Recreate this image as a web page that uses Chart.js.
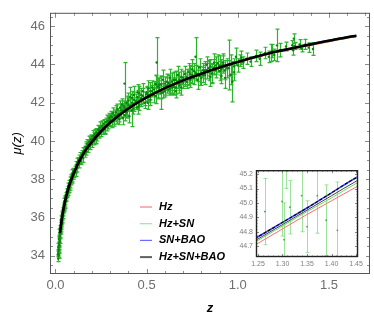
<!DOCTYPE html>
<html><head><meta charset="utf-8">
<script src="https://cdn.jsdelivr.net/npm/chart.js@4/dist/chart.umd.min.js"></script>
<style>
html,body{margin:0;padding:0;background:#fff;}
#wrap{position:relative;width:374px;height:319px;overflow:hidden;}
#main{position:absolute;left:0;top:0;}
#insetBox{position:absolute;left:233px;top:163px;width:133px;height:110px;background:#fff;}
</style></head><body>
<div id="wrap">
<canvas id="main" width="374" height="319"></canvas>
<div id="insetBox"><canvas id="inset" width="133" height="110"></canvas></div>
</div>
<script>
// ---- Supernova data (redshift, distance modulus, 1-sigma error) ----
const snZ = [
 0.014,0.015,0.016,0.016,0.017,0.018,0.018,0.019,0.02,0.02,0.021,0.022,0.022,0.023,0.024,0.024,0.025,0.026,0.027,0.028,
 0.029,0.03,0.031,0.032,0.033,0.034,0.035,0.036,0.038,0.04,0.041,0.043,0.045,0.047,0.049,0.051,0.053,0.055,0.057,0.06,
 0.062,0.064,0.066,0.068,0.07,0.073,0.075,0.078,0.08,0.083,0.086,0.088,0.091,0.094,0.097,0.1,
 0.105,0.11,0.115,0.12,0.125,0.13,0.135,0.14,0.145,0.15,0.155,0.16,0.165,0.17,0.175,0.18,0.185,0.19,0.195,0.2,
 0.205,0.21,0.215,0.22,0.225,0.23,0.235,0.24,0.245,0.25,0.255,0.26,0.265,0.27,0.275,0.28,0.285,0.29,0.295,0.3,
 0.12,0.13,0.15,0.17,0.19,0.21,0.23,0.26,0.29,
 0.305,0.31,0.315,0.32,0.33,0.335,0.34,0.35,0.355,0.36,0.365,0.37,0.375,0.379,0.385,0.39,0.395,0.4,0.405,0.41,
 0.42,0.42,0.425,0.43,0.44,0.45,0.455,0.46,0.47,0.48,0.49,0.5,0.505,0.51,0.52,0.53,0.54,0.55,0.555,0.56,
 0.57,0.58,0.58,0.59,0.6,0.61,0.62,0.63,0.64,0.65,0.66,0.67,0.68,0.69,0.7,
 0.31,0.325,0.345,0.37,0.39,0.41,0.43,0.45,0.47,0.49,0.51,0.53,0.55,0.57,0.59,0.61,0.63,0.65,0.67,0.69,
 0.71,0.72,0.72,0.73,0.74,0.74,0.75,0.76,0.76,0.768,0.78,0.78,0.79,0.8,0.81,0.81,0.82,0.83,0.83,0.84,
 0.85,0.85,0.86,0.87,0.87,0.88,0.89,0.9,0.91,0.91,0.92,0.93,0.93,0.95,0.952,0.96,0.96,0.97,0.98,0.98,0.99,1.0,
 1.01,1.02,1.03,1.05,1.07,1.1,1.12,1.15,1.17,1.18,1.19,1.2,1.215,1.23,1.264,1.299,1.303,1.307,1.315,1.339,
 1.35,1.371,1.389,1.412,
 0.11,0.14,0.16,0.18,0.2,0.22,0.24,0.27,0.3,0.32,0.34,0.36,0.38,0.4,0.42,0.44,0.46,0.48,0.5,0.52,
 0.54,0.56,0.58,0.6,0.62,0.64,0.66,0.68,0.7,0.73,0.75,0.77,0.79,0.82,0.84,0.86,0.88,0.9,0.92,0.94,
 0.35,0.38,0.43,0.47,0.52,0.56,0.6,0.64,0.68,0.71,0.45,0.5,0.55,0.62,0.66,
 0.017,0.021,0.025,0.029,0.033,0.037,0.042,0.046,0.05,0.055,0.059,0.065,0.072,0.077,0.085,0.092
];
const snMu = [
 34.1,33.85,34.2,34.45,34.0,34.3,34.05,34.5,34.6,34.9,34.85,34.7,35.2,35.05,35.0,34.8,35.3,35.15,35.45,35.3,
 35.6,35.5,35.75,35.65,35.95,35.8,36.05,35.9,36.2,36.1,36.4,36.35,36.6,36.5,36.85,36.7,37.0,36.85,37.15,37.05,
 37.35,37.2,37.45,37.3,37.65,37.55,37.8,37.7,37.95,37.85,38.1,37.95,38.3,38.15,38.4,38.25,
 38.5,38.35,38.75,38.6,38.95,38.8,39.15,38.95,39.3,39.1,39.45,39.35,39.7,39.45,39.85,39.6,39.95,39.75,40.1,39.85,
 40.25,40.0,40.35,40.1,40.45,40.25,40.6,40.35,40.7,40.45,40.8,40.55,40.9,40.65,41.0,40.75,41.05,40.85,41.2,40.95,
 38.9,39.05,39.4,39.65,40.0,40.25,40.4,40.7,41.05,
 41.3,41.0,41.45,41.1,41.5,41.2,41.65,41.3,41.75,41.45,41.9,41.2,41.8,43.0,41.55,42.0,41.65,42.1,41.3,41.85,
 42.25,41.6,41.7,42.4,41.95,42.3,41.8,42.5,42.1,42.6,42.2,42.55,42.0,42.75,42.3,42.8,42.4,43.0,44.1,42.55,
 42.95,42.6,42.5,43.2,42.75,43.1,42.7,43.3,42.85,43.2,42.6,43.45,43.0,43.35,43.05,
 41.25,41.35,41.4,41.6,41.5,42.3,41.9,42.55,42.4,42.0,42.4,42.6,42.35,42.8,42.55,42.9,42.75,42.85,43.1,42.8,
 43.5,43.1,43.35,43.6,43.2,43.5,43.75,43.3,43.65,44.4,43.5,43.2,43.85,43.3,43.7,43.45,43.45,44.0,43.7,43.6,
 43.9,43.35,43.5,44.1,43.85,43.7,44.05,43.95,43.4,43.75,44.0,43.7,43.3,43.8,43.97,43.45,44.0,43.1,43.9,43.6,44.4,43.95,
 44.2,44.35,44.1,44.3,44.15,44.45,44.3,44.6,44.4,44.6,44.7,44.5,45.0,44.75,44.94,45.01,44.745,45.35,44.97,45.05,
 44.835,45.05,44.88,44.81,
 38.55,39.0,39.5,39.8,40.1,40.1,40.55,40.6,41.1,41.05,41.3,41.6,41.35,41.9,42.0,42.1,41.9,42.35,42.45,42.15,
 42.7,42.55,42.95,42.6,43.05,42.8,43.2,42.9,43.3,43.3,43.45,43.55,43.4,43.7,43.8,43.55,43.95,43.65,44.1,43.8,
 41.15,41.7,42.15,42.25,42.6,42.85,43.0,43.1,43.2,43.2,41.75,42.45,42.95,43.0,42.8,
 34.35,34.55,35.05,35.4,35.7,36.0,36.25,36.45,36.65,36.95,37.0,37.3,37.45,37.6,38.0,38.05
];
const snErr = [
 0.15,0.15,0.12,0.2,0.13,0.14,0.15,0.2,0.15,0.18,0.12,0.18,0.2,0.14,0.12,0.15,0.15,0.2,0.13,0.16,
 0.14,0.12,0.15,0.18,0.14,0.13,0.2,0.15,0.14,0.16,0.12,0.15,0.17,0.14,0.15,0.16,0.13,0.18,0.15,0.14,
 0.16,0.15,0.17,0.14,0.15,0.16,0.14,0.15,0.17,0.14,0.16,0.15,0.2,0.15,0.17,0.16,
 0.18,0.2,0.17,0.22,0.18,0.2,0.25,0.18,0.2,0.22,0.18,0.2,0.25,0.19,0.22,0.2,0.3,0.2,0.22,0.19,
 0.3,0.2,0.25,0.22,0.2,0.25,0.22,0.2,0.3,0.22,0.25,0.2,0.22,0.25,0.2,0.22,0.3,0.22,0.25,0.2,
 0.2,0.22,0.25,0.2,0.22,0.2,0.25,0.22,0.25,
 0.25,0.3,0.28,0.25,0.35,0.3,0.28,0.3,0.35,0.28,0.3,0.35,0.3,1.1,0.3,0.35,0.3,0.4,0.35,0.3,
 0.35,0.85,0.3,0.45,0.3,0.35,0.4,0.35,0.3,0.4,0.35,0.3,0.35,0.4,0.3,0.35,0.4,0.45,1.3,0.3,
 0.35,0.4,0.85,0.5,0.35,0.4,0.3,0.45,0.35,0.4,0.35,0.45,0.35,0.4,0.3,
 0.3,0.28,0.3,0.35,0.3,0.5,0.35,0.4,0.35,0.3,0.35,0.3,0.4,0.35,0.3,0.4,0.35,0.45,0.35,0.4,
 0.4,0.35,0.4,0.45,0.4,0.45,0.5,0.35,0.4,1.0,0.4,0.5,0.45,0.4,0.35,0.4,0.5,0.4,0.45,0.45,
 0.35,0.5,0.5,0.45,0.4,0.4,0.45,0.5,0.4,0.5,0.45,0.5,0.55,0.4,1.3,0.5,0.5,1.05,0.4,0.45,0.45,0.35,
 0.3,0.35,0.3,0.3,0.25,0.3,0.35,0.3,0.3,0.45,0.35,0.3,0.85,0.35,0.23,0.24,0.255,0.25,0.185,0.25,
 0.18,0.26,0.245,0.335,
 0.2,0.2,0.22,0.25,0.2,0.25,0.22,0.25,0.3,0.28,0.3,0.35,0.3,0.35,0.4,0.35,0.3,0.4,0.35,0.3,
 0.4,0.35,0.45,0.3,0.4,0.35,0.45,0.4,0.35,0.4,0.45,0.4,0.5,0.45,0.4,0.5,0.45,0.5,0.45,0.5,
 0.3,0.35,0.4,0.35,0.45,0.4,0.35,0.45,0.4,0.35,0.35,0.4,0.45,0.4,0.35,
 0.18,0.2,0.15,0.15,0.17,0.15,0.16,0.15,0.18,0.15,0.16,0.18,0.15,0.17,0.16,0.18
];

// ---- Model curves mu(z) for the four fits ----
const modelZ   = [0.025,0.03,0.04,0.05,0.07,0.1,0.15,0.2,0.25,0.3,0.4,0.5,0.6,0.7,0.8,0.9,1.0,1.1,1.2,1.25,1.3,1.35,1.4,1.45,1.5,1.6,1.65];
const muHz     = [35.19,35.59,36.24,36.74,37.51,38.32,39.29,39.96,40.51,40.97,41.70,42.27,42.74,43.15,43.50,43.82,44.11,44.37,44.62,44.72,44.82,44.92,45.015,45.11,45.20,45.38,45.46];
const muHzSN   = [35.19,35.59,36.24,36.74,37.51,38.32,39.29,39.96,40.51,40.97,41.70,42.28,42.75,43.16,43.51,43.83,44.12,44.39,44.64,44.74,44.84,44.94,45.035,45.135,45.22,45.40,45.48];
const muSNBAO  = [35.19,35.59,36.24,36.74,37.51,38.32,39.29,39.96,40.51,40.97,41.70,42.28,42.76,43.17,43.53,43.85,44.15,44.42,44.665,44.765,44.865,44.965,45.07,45.175,45.26,45.44,45.52];
const muAll    = [35.19,35.59,36.24,36.74,37.51,38.32,39.29,39.96,40.51,40.97,41.70,42.28,42.76,43.17,43.52,43.84,44.13,44.40,44.65,44.75,44.85,44.95,45.05,45.15,45.24,45.42,45.50];
const seriesNames = ['Hz', 'Hz+SN', 'SN+BAO', 'Hz+SN+BAO'];

// ---- Tick labels ----
const xTicks = [0, 0.5, 1.0, 1.5];
const yTicks = [34, 36, 38, 40, 42, 44, 46];
const insetXTicks = [1.25, 1.30, 1.35, 1.40, 1.45];
const insetYTicks = [44.7, 44.8, 44.9, 45.0, 45.1, 45.2];

const FONT = "'Liberation Sans', Arial, sans-serif";
const pts = (xs, ys) => xs.map((x, i) => ({x: x, y: ys[i]}));

const errorBars = {
  id: 'errorBars',
  beforeDatasetsDraw(chart, args, o) {
    const {ctx, chartArea: a, scales: {x, y}} = chart;
    ctx.save();
    ctx.beginPath(); ctx.rect(a.left, a.top, a.right - a.left, a.bottom - a.top); ctx.clip();
    ctx.strokeStyle = o.color; ctx.lineWidth = o.width;
    ctx.beginPath();
    for (let i = 0; i < snZ.length; i++) {
      const px = Math.round(x.getPixelForValue(snZ[i])) + 0.5;
      const y1 = y.getPixelForValue(snMu[i] - snErr[i]);
      const y2 = y.getPixelForValue(snMu[i] + snErr[i]);
      ctx.moveTo(px, y1); ctx.lineTo(px, y2);
      ctx.moveTo(px - o.cap, y1); ctx.lineTo(px + o.cap, y1);
      ctx.moveTo(px - o.cap, y2); ctx.lineTo(px + o.cap, y2);
    }
    ctx.stroke();
    ctx.restore();
  }
};

const frameTicks = {
  id: 'frameTicks',
  afterDraw(chart, args, o) {
    const {ctx, chartArea: a, scales: {x, y}} = chart;
    ctx.save();
    ctx.strokeStyle = o.tickColor; ctx.lineWidth = 1;
    ctx.beginPath();
    const tx = (v, len) => { const p = Math.round(x.getPixelForValue(v)) + 0.5;
      ctx.moveTo(p, a.bottom); ctx.lineTo(p, a.bottom - len); ctx.moveTo(p, a.top); ctx.lineTo(p, a.top + len); };
    const ty = (v, len) => { const p = Math.round(y.getPixelForValue(v)) + 0.5;
      ctx.moveTo(a.left, p); ctx.lineTo(a.left + len, p); ctx.moveTo(a.right, p); ctx.lineTo(a.right - len, p); };
    const nx = Math.round((x.max - o.xStart) / o.xMinor);
    for (let k = 0; k <= nx; k++) { const v = o.xStart + k * o.xMinor; if (v >= x.min && v <= x.max) tx(v, o.minorLen); }
    const ny = Math.round((y.max - o.yStart) / o.yMinor);
    for (let k = 0; k <= ny; k++) { const v = o.yStart + k * o.yMinor; if (v >= y.min && v <= y.max) ty(v, o.minorLen); }
    o.xMajor.forEach(v => tx(v, o.majorLen));
    o.yMajor.forEach(v => ty(v, o.majorLen));
    ctx.stroke();
    ctx.strokeStyle = o.frameColor; ctx.lineWidth = o.frameWidth;
    ctx.strokeRect(a.left + 0.5, a.top + 0.5, a.right - a.left - 1, a.bottom - a.top - 1);
    ctx.restore();
  }
};

const legendBox = {
  id: 'legendBox',
  afterDraw(chart, args, o) {
    const ctx = chart.ctx;
    ctx.save();
    ctx.font = o.font; ctx.textBaseline = 'middle';
    o.items.forEach((it, i) => {
      const yy = o.y + i * o.dy;
      ctx.strokeStyle = it.color; ctx.lineWidth = it.width;
      ctx.beginPath(); ctx.moveTo(o.x, yy); ctx.lineTo(o.x + o.len, yy); ctx.stroke();
      ctx.fillStyle = '#000';
      ctx.fillText(it.text, o.x + o.len + o.gap, yy);
    });
    ctx.restore();
  }
};

const lineDs = (label, ys, color, width, order, extra) => Object.assign({
  label: label, data: pts(modelZ, ys), showLine: true, borderColor: color, backgroundColor: color,
  borderWidth: width, pointRadius: 0, cubicInterpolationMode: 'monotone', order: order
}, extra || {});

new Chart(document.getElementById('main'), {
  type: 'scatter',
  data: { datasets: [
    { label: 'Union data', data: pts(snZ, snMu), pointRadius: 1.2, pointBorderWidth: 0,
      pointBackgroundColor: '#0b850b', order: 5 },
    lineDs(seriesNames[0], muHz, '#ff4a2a', 1.5, 4),
    lineDs(seriesNames[1], muHzSN, '#3ccc3c', 1.5, 3),
    lineDs(seriesNames[2], muSNBAO, '#2a2aff', 1.5, 2),
    lineDs(seriesNames[3], muAll, '#000000', 2.6, 1)
  ]},
  plugins: [errorBars, frameTicks, legendBox],
  options: {
    responsive: false, animation: false, events: [],
    layout: { padding: { left: 0, right: 2, top: 1, bottom: 0 } },
    scales: {
      x: { type: 'linear', min: -0.03, max: 1.725,
        afterFit(s) { s.height = 45; },
        afterBuildTicks(s) { s.ticks = xTicks.map(v => ({value: v})); },
        grid: { display: false, drawTicks: false }, border: { display: false },
        ticks: { padding: 4, color: '#6e6e6e', font: { family: FONT, size: 13 }, autoSkip: false, maxRotation: 0,
          callback: v => Number(v).toFixed(1) },
        title: { display: true, text: 'z', color: '#000', font: { family: FONT, size: 13, style: 'italic', weight: 'bold' },
          padding: { top: 0, bottom: 3 } } },
      y: { type: 'linear', min: 33.05, max: 46.7,
        afterFit(s) { s.width = 50; },
        afterBuildTicks(s) { s.ticks = yTicks.map(v => ({value: v})); },
        grid: { display: false, drawTicks: false }, border: { display: false },
        ticks: { padding: 5, color: '#6e6e6e', font: { family: FONT, size: 13 }, autoSkip: false,
          callback: v => String(v) },
        title: { display: true, text: 'μ(z)', color: '#000', font: { family: FONT, size: 13, style: 'italic' },
          padding: { top: 10, bottom: 0 } } }
    },
    plugins: {
      legend: { display: false }, tooltip: { enabled: false },
      errorBars: { color: '#2cb42c', width: 1.2, cap: 2 },
      frameTicks: { tickColor: '#8a8a8a', frameColor: '#555', frameWidth: 1, majorLen: 5, minorLen: 3,
        xStart: 0, xMinor: 0.1, yStart: 33.5, yMinor: 0.5, xMajor: xTicks, yMajor: yTicks },
      legendBox: { x: 140, y: 207, dy: 16.7, len: 12, gap: 7, font: "italic bold 11px " + FONT,
        items: [
          { text: seriesNames[0], color: '#f28080', width: 1.2 },
          { text: seriesNames[1], color: '#90ee90', width: 1.2 },
          { text: seriesNames[2], color: '#6b6bff', width: 1.2 },
          { text: seriesNames[3], color: '#606060', width: 2 }
        ] }
    }
  }
});

new Chart(document.getElementById('inset'), {
  type: 'scatter',
  data: { datasets: [
    { label: 'Union data', data: pts(snZ, snMu), pointRadius: 0.9, pointBorderWidth: 0,
      pointBackgroundColor: 'rgba(40,150,40,0.8)', order: 6 },
    lineDs(seriesNames[0], muHz, '#ff6f6f', 1, 5),
    lineDs(seriesNames[1], muHzSN, '#66dd66', 1, 4),
    lineDs(seriesNames[3], muAll, '#444444', 1, 3),
    lineDs(seriesNames[2], muSNBAO, '#3a3aff', 1.6, 2),
    lineDs('dashed', muSNBAO, '#000000', 1.1, 1, { borderDash: [3, 2] })
  ]},
  plugins: [errorBars, frameTicks],
  options: {
    responsive: false, animation: false, events: [],
    layout: { padding: { left: 0, right: 7, top: 6, bottom: 0 } },
    scales: {
      x: { type: 'linear', min: 1.246, max: 1.454,
        afterFit(s) { s.height = 16; },
        afterBuildTicks(s) { s.ticks = insetXTicks.map(v => ({value: v})); },
        grid: { display: false, drawTicks: false }, border: { display: false },
        ticks: { padding: 3, color: '#808080', font: { family: FONT, size: 7 }, autoSkip: false, maxRotation: 0,
          callback: v => Number(v).toFixed(2) } },
      y: { type: 'linear', min: 44.625, max: 45.227,
        afterFit(s) { s.width = 23; },
        afterBuildTicks(s) { s.ticks = insetYTicks.map(v => ({value: v})); },
        grid: { display: false, drawTicks: false }, border: { display: false },
        ticks: { padding: 3, color: '#808080', font: { family: FONT, size: 7 }, autoSkip: false,
          callback: v => Number(v).toFixed(1) } }
    },
    plugins: {
      legend: { display: false }, tooltip: { enabled: false },
      errorBars: { color: 'rgba(90,210,90,0.6)', width: 1, cap: 2 },
      frameTicks: { tickColor: '#888', frameColor: '#222', frameWidth: 1.4, majorLen: 3, minorLen: 1.5,
        xStart: 1.25, xMinor: 0.01, yStart: 44.7, yMinor: 0.02, xMajor: insetXTicks, yMajor: insetYTicks }
    }
  }
});
</script>
</body></html>
